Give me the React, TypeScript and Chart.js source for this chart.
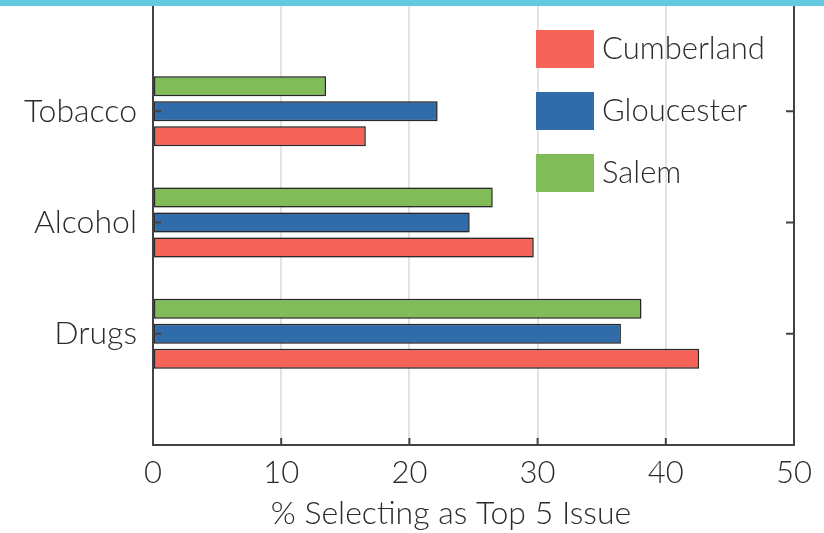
import React, { useEffect, useRef } from 'react';
import { Chart, registerables } from 'chart.js';

Chart.register(...registerables);

// ---- data ----
const categories: string[] = ['', 'Tobacco', 'Alcohol', 'Drugs', ''];
const salemValues: (number | null)[] = [null, 13.5, 26.5, 38.1, null];
const gloucesterValues: (number | null)[] = [null, 22.2, 24.7, 36.5, null];
const cumberlandValues: (number | null)[] = [null, 16.6, 29.7, 42.6, null];
const xTickValues: number[] = [0, 10, 20, 30, 40, 50];
const legendOrder: string[] = ['Cumberland', 'Gloucester', 'Salem'];
const xTitle = '% Selecting as Top 5 Issue';

const FONT = 'Lato';
const WEIGHT = '300';
const AXIS = '#454142';
const TEXT = '#2b2b2b';

const decorPlugin = {
  id: 'decor',
  beforeDatasetsDraw(chart: any) {
    const ctx = chart.ctx;
    ctx.save();
    ctx.shadowColor = 'rgba(0,0,0,0.35)';
    ctx.shadowBlur = 2;
  },
  afterDatasetsDraw(chart: any) {
    const ctx = chart.ctx;
    ctx.restore();
    const { left, right, top, bottom } = chart.chartArea;
    const xs = chart.scales.x;
    const ys = chart.scales.y;
    ctx.save();
    ctx.strokeStyle = AXIS;
    ctx.lineWidth = 2;
    // right frame line
    ctx.beginPath();
    ctx.moveTo(right, top);
    ctx.lineTo(right, bottom + 1);
    ctx.stroke();
    // inward y ticks on both sides
    categories.forEach((c, i) => {
      if (!c) return;
      const y = ys.getPixelForValue(i);
      ctx.beginPath();
      ctx.moveTo(left, y);
      ctx.lineTo(left + 8, y);
      ctx.moveTo(right - 8, y);
      ctx.lineTo(right, y);
      ctx.stroke();
    });
    // inward x ticks
    xTickValues.forEach((v) => {
      if (v === xs.min || v === xs.max) return;
      const x = xs.getPixelForValue(v);
      ctx.beginPath();
      ctx.moveTo(x, bottom);
      ctx.lineTo(x, bottom - 7);
      ctx.stroke();
    });
    // legend
    ctx.font = `${WEIGHT} 31px ${FONT}`;
    ctx.textBaseline = 'middle';
    ctx.textAlign = 'left';
    legendOrder.forEach((name, k) => {
      const ds = chart.data.datasets.find((d: any) => d.label === name);
      const bx = right - 258;
      const by = top + 30 + k * 62;
      ctx.fillStyle = ds.backgroundColor;
      ctx.fillRect(bx, by, 58, 38);
      ctx.fillStyle = TEXT;
      ctx.fillText(name, bx + 66, by + 19);
    });
    // x axis title
    ctx.font = `${WEIGHT} 32px ${FONT}`;
    ctx.textAlign = 'center';
    ctx.textBaseline = 'middle';
    ctx.fillText(xTitle, 451, 514);
    ctx.restore();
  },
};

export default function App() {
  const ref = useRef<HTMLCanvasElement | null>(null);

  useEffect(() => {
    document.body.style.margin = '0';
    if (!ref.current) return;
    const chart = new Chart(ref.current, {
      type: 'bar',
      data: {
        labels: categories,
        datasets: [
          { label: 'Salem', data: salemValues, backgroundColor: '#80BD58' },
          { label: 'Gloucester', data: gloucesterValues, backgroundColor: '#316CAA' },
          { label: 'Cumberland', data: cumberlandValues, backgroundColor: '#F66358' },
        ] as any,
      },
      options: {
        indexAxis: 'y',
        responsive: false,
        animation: false,
        devicePixelRatio: 1,
        layout: { padding: { left: 0, right: 30, top: 0, bottom: 0 } },
        datasets: {
          bar: {
            borderColor: '#2e2e2e',
            borderWidth: 1.5,
            categoryPercentage: 0.674,
            barPercentage: 0.8,
            borderSkipped: false,
          },
        },
        plugins: {
          legend: { display: false },
          tooltip: { enabled: false },
        },
        scales: {
          x: {
            type: 'linear',
            min: 0,
            max: 50,
            afterBuildTicks: (scale: any) => {
              scale.ticks = xTickValues.map((v) => ({ value: v }));
            },
            ticks: {
              font: { family: FONT, size: 31, weight: WEIGHT },
              color: TEXT,
              padding: 9,
            },
            grid: {
              color: (c: any) =>
                c.tick && (c.tick.value === 0 || c.tick.value === 50) ? 'rgba(0,0,0,0)' : '#e3e3e3',
              lineWidth: 2,
              drawTicks: false,
            },
            border: { display: true, color: AXIS, width: 2 },
            title: { display: false },
            afterFit: (scale: any) => {
              scale.height = 88;
              scale.paddingLeft = 0;
              scale.paddingRight = 0;
            },
          },
          y: {
            type: 'category',
            offset: false,
            ticks: {
              font: { family: FONT, size: 32, weight: WEIGHT },
              color: TEXT,
              padding: 16,
              autoSkip: false,
            },
            grid: { display: false, drawTicks: false },
            border: { display: true, color: AXIS, width: 2 },
            afterFit: (scale: any) => {
              scale.width = 153;
              scale.paddingTop = 0;
              scale.paddingBottom = 0;
            },
          },
        },
      } as any,
      plugins: [decorPlugin],
    });
    return () => chart.destroy();
  }, []);

  return (
    <div style={{ position: 'relative', width: 824, height: 533, background: '#fff' }}>
      <canvas ref={ref} width={824} height={533} style={{ display: 'block' }} />
      <div
        style={{
          position: 'absolute',
          left: 0,
          top: 0,
          width: 824,
          height: 6,
          background: '#63C9E1',
        }}
      />
    </div>
  );
}
